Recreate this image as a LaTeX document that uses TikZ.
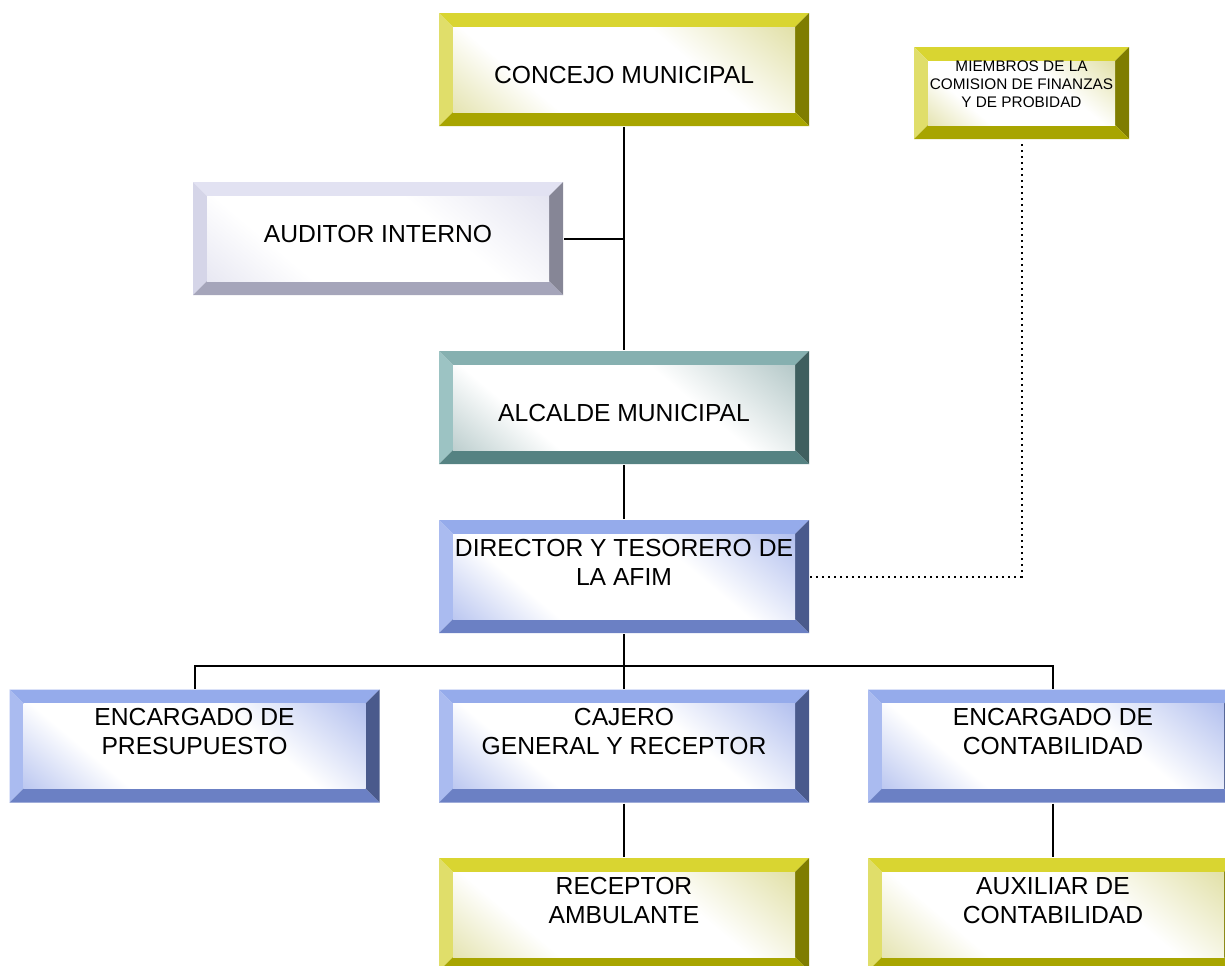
\documentclass[tikz,border=0pt]{standalone}
\usepackage{fontspec}
\setmainfont{Liberation Sans}
\usetikzlibrary{positioning}

% bevel colours: top, left, right, bottom, inner corner
\definecolor{yelT}{HTML}{D9D531}
\definecolor{yelL}{HTML}{E0DE6A}
\definecolor{yelR}{HTML}{7F7D00}
\definecolor{yelB}{HTML}{A8A500}
\definecolor{yelI}{HTML}{CFCD70}
\definecolor{lavT}{HTML}{E2E2F2}
\definecolor{lavL}{HTML}{D5D5E8}
\definecolor{lavR}{HTML}{868696}
\definecolor{lavB}{HTML}{A5A5BA}
\definecolor{lavI}{HTML}{D4D4E8}
\definecolor{tealT}{HTML}{86B0B0}
\definecolor{tealL}{HTML}{9CC3C3}
\definecolor{tealR}{HTML}{3F5F5F}
\definecolor{tealB}{HTML}{558282}
\definecolor{tealI}{HTML}{86A6A6}
\definecolor{bluT}{HTML}{95ABEB}
\definecolor{bluL}{HTML}{AABBF0}
\definecolor{bluR}{HTML}{4A5A8C}
\definecolor{bluB}{HTML}{6B80C4}
\definecolor{bluI}{HTML}{8298E4}

\newcommand\boxfont{\fontsize{18.5}{21.75}\selectfont}
\newcommand\smallboxfont{\fontsize{11.5}{13.5}\selectfont}
\newcommand\bevelw{10.5pt}

\colorlet{faceI}{yelI}
\pgfdeclareverticalshading[faceI]{bevelface}{100bp}{color(0bp)=(faceI);
  color(32bp)=(white); color(62bp)=(white); color(100bp)=(faceI)}

% four bevel faces and a shaded face inside the node
\newcommand\boxbevel[5]{%
  \coordinate (bnw) at (path picture bounding box.north west);
  \coordinate (bne) at (path picture bounding box.north east);
  \coordinate (bsw) at (path picture bounding box.south west);
  \coordinate (bse) at (path picture bounding box.south east);
  \coordinate (inw) at ([shift={(\bevelw,-\bevelw)}]bnw);
  \coordinate (ine) at ([shift={(-\bevelw,-\bevelw)}]bne);
  \coordinate (isw) at ([shift={(\bevelw,\bevelw)}]bsw);
  \coordinate (ise) at ([shift={(-\bevelw,\bevelw)}]bse);
  \fill[#1] (bnw) -- (bne) -- (ine) -- (inw) -- cycle;
  \fill[#2] (bnw) -- (inw) -- (isw) -- (bsw) -- cycle;
  \fill[#3] (bne) -- (bse) -- (ise) -- (ine) -- cycle;
  \fill[#4] (bsw) -- (isw) -- (ise) -- (bse) -- cycle;
  \colorlet{faceI}{#5}
  \shade[shading=bevelface,shading angle=-40] (inw) rectangle (ise);
}

\begin{document}
\begin{tikzpicture}
      [x=0.75pt,y=-0.75pt,line width=1.5pt,
      bevel box/.style={minimum width=277.5pt,minimum height=84.75pt,
        inner sep=0pt,align=center,font=\boxfont},
      yellow box/.style={bevel box,path picture={\boxbevel{yelT}{yelL}{yelR}{yelB}{yelI}}},
      lavender box/.style={bevel box,path picture={\boxbevel{lavT}{lavL}{lavR}{lavB}{lavI}}},
      teal box/.style={bevel box,path picture={\boxbevel{tealT}{tealL}{tealR}{tealB}{tealI}}},
      blue box/.style={bevel box,path picture={\boxbevel{bluT}{bluL}{bluR}{bluB}{bluI}}},
      low text/.style={text height=20.4pt,text depth=0pt},
      high text/.style={text height=12.9pt,text depth=7.5pt},
      dotted link/.style={line width=1.5pt,dash pattern=on 1.5pt off 3pt}]
      \useasboundingbox (0,0) rectangle (1225,965);
      \clip (0,0) rectangle (1225,965);
      \node[yellow box,low text] (concejo) at (624,69.5) {CONCEJO MUNICIPAL};
      \node[yellow box,minimum width=161.25pt,minimum height=69pt,
        font=\smallboxfont] (miembros) at (1021.5,93)
        {MIEMBROS DE LA\\COMISION DE FINANZAS\\Y DE PROBIDAD\\\mbox{}};
      \node[lavender box,high text] (auditor) at (378,238.5) {AUDITOR INTERNO};
      \node[teal box,low text] (alcalde) at (624,407.5) {ALCALDE MUNICIPAL};
      \node[blue box] (director) at (624,576.5) {DIRECTOR Y TESORERO DE\\LA AFIM\\\mbox{}};
      \node[blue box] (pres) at (194.5,746) {ENCARGADO DE\\PRESUPUESTO\\\mbox{}};
      \node[blue box] (cajero) at (624,746) {CAJERO\\GENERAL Y RECEPTOR\\\mbox{}};
      \node[blue box] (cont) at (1053,746) {ENCARGADO DE\\CONTABILIDAD\\\mbox{}};
      \node[yellow box] (receptor) at (624,914.5) {RECEPTOR\\AMBULANTE\\\mbox{}};
      \node[yellow box] (auxiliar) at (1053,914.5) {AUXILIAR DE\\CONTABILIDAD\\\mbox{}};
      \coordinate (bus) at (624,666);
      \path (concejo) edge (alcalde);
      \path (auditor.east) edge (auditor.east -| concejo.south);
      \path (alcalde) edge (director);
      \path (director) edge (bus);
      \draw (pres.north) |- (bus) -| (cont.north);
      \path (bus) edge (cajero);
      \path (cajero) edge (receptor);
      \path (cont) edge (auxiliar);
      \draw[dotted link] (director.east) -| (miembros.south);
    \end{tikzpicture}
\end{document}
